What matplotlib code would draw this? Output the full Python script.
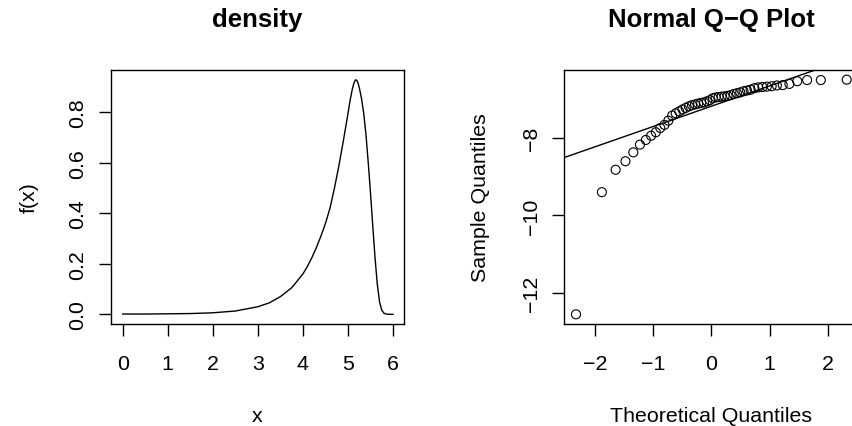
import matplotlib
matplotlib.use("Agg")
import matplotlib.pyplot as plt

plt.rcParams["font.family"] = ["Liberation Sans", "DejaVu Sans"]

W, H = 852, 427

# ---- density curve (left) ----
dens_x = [0.0, 0.5, 1.0, 1.5, 2.0, 2.5, 3.0, 3.25, 3.5, 3.75, 4.0, 4.1,
          4.2, 4.3, 4.4, 4.5, 4.6, 4.7, 4.8, 4.9, 5.0, 5.05, 5.1, 5.14,
          5.17, 5.2, 5.23, 5.26, 5.3, 5.35, 5.4, 5.45, 5.5, 5.55, 5.6,
          5.65, 5.7, 5.75, 5.8, 5.85, 5.9, 6.0]
dens_y = [0.001, 0.001, 0.002, 0.003, 0.006, 0.013, 0.030, 0.045, 0.070,
          0.105, 0.160, 0.190, 0.225, 0.265, 0.310, 0.360, 0.420, 0.500,
          0.590, 0.690, 0.795, 0.850, 0.895, 0.920, 0.929, 0.925, 0.912,
          0.890, 0.855, 0.795, 0.710, 0.600, 0.480, 0.350, 0.225, 0.120,
          0.050, 0.016, 0.004, 0.001, 0.0, 0.0]
dens_xticks = [0, 1, 2, 3, 4, 5, 6]
dens_yticks = [0.0, 0.2, 0.4, 0.6, 0.8]

# ---- normal Q-Q (right) ----
theo_q = [-2.326, -1.881, -1.645, -1.476, -1.341, -1.227, -1.126, -1.036,
          -0.954, -0.878, -0.806, -0.739, -0.674, -0.613, -0.553, -0.496,
          -0.440, -0.385, -0.332, -0.279, -0.228, -0.176, -0.126, -0.075,
          -0.025, 0.025, 0.075, 0.126, 0.176, 0.228, 0.279, 0.332, 0.385,
          0.440, 0.496, 0.553, 0.613, 0.674, 0.739, 0.806, 0.878, 0.954,
          1.036, 1.126, 1.227, 1.341, 1.476, 1.645, 1.881, 2.326]
sample_q = [-12.56, -9.40, -8.82, -8.60, -8.37, -8.17, -8.05, -7.94, -7.85,
            -7.74, -7.66, -7.55, -7.42, -7.36, -7.31, -7.26, -7.22, -7.18,
            -7.15, -7.13, -7.11, -7.09, -7.08, -7.05, -7.02, -6.97, -6.95,
            -6.94, -6.93, -6.92, -6.91, -6.89, -6.86, -6.84, -6.82, -6.79,
            -6.77, -6.75, -6.71, -6.69, -6.68, -6.67, -6.66, -6.64, -6.63,
            -6.60, -6.53, -6.50, -6.50, -6.49]
qq_intercept, qq_slope = -7.177, 0.525
qq_xticks = [-2, -1, 0, 1, 2]
qq_yticks = [-12, -10, -8]

FS = 15.4


def px_axes(x0, y0, x1, y1):
    return [x0 / W, (H - y1) / H, (x1 - x0) / W, (y1 - y0) / H]


def r_style(ax):
    for s in ax.spines.values():
        s.set_linewidth(1.0)
    ax.tick_params(direction="out", length=8.6, width=1.0, labelsize=FS, pad=13)
    ax.tick_params(axis="y", labelrotation=90, pad=8.5)
    for lab in ax.get_yticklabels():
        lab.set_va("center")


fig = plt.figure(figsize=(W / 100, H / 100), dpi=100)

# left panel
ax1 = fig.add_axes(px_axes(111, 71, 404.3, 325))
ax1.plot(dens_x, dens_y, color="black", lw=1.0, solid_joinstyle="round")
ax1.set_xlim(-0.26, 6.25)
ax1.set_ylim(-0.0384, 0.9675)
ax1.set_xticks(dens_xticks)
ax1.set_yticks(dens_yticks)
ax1.set_yticklabels([f"{v:.1f}" for v in dens_yticks])
r_style(ax1)
fig.text(257.6 / W, (H - 27) / H, "density", ha="center", va="baseline",
         fontsize=18.5, fontweight="bold")
fig.text(257.6 / W, (H - 422) / H, "x", ha="center", va="baseline", fontsize=FS)
fig.text(29 / W, (H - 198) / H, "f(x)", ha="center", va="center",
         rotation=90, fontsize=FS)

# right panel (extends slightly past the right edge, like the source)
ax2 = fig.add_axes(px_axes(564.3, 71, 858, 325))
ax2.scatter(theo_q, sample_q, s=42, facecolors="none", edgecolors="black",
            linewidths=0.8, zorder=3)
ax2.axline((0, qq_intercept), slope=qq_slope, color="black", lw=1.0)
ax2.set_xlim(-2.527, 2.52)
ax2.set_ylim(-12.81, -6.24)
ax2.set_xticks(qq_xticks)
ax2.set_yticks(qq_yticks)
r_style(ax2)
fig.text(711 / W, (H - 27) / H, "Normal Q\u2212Q Plot", ha="center",
         va="baseline", fontsize=18.5, fontweight="bold")
fig.text(711 / W, (H - 422) / H, "Theoretical Quantiles", ha="center",
         va="baseline", fontsize=FS)
fig.text(481 / W, (H - 198) / H, "Sample Quantiles", ha="center",
         va="center", rotation=90, fontsize=FS)

fig.savefig("out.png", dpi=100)
